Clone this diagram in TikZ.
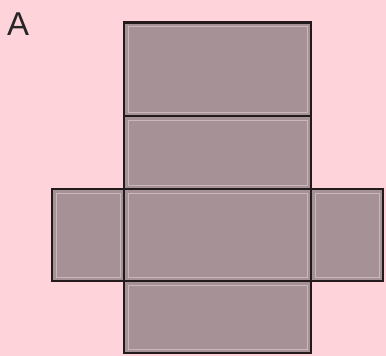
\documentclass[tikz,border=0pt]{standalone}
\usepackage{fontspec}
\setmainfont{Liberation Sans}
\definecolor{bgpink}{HTML}{FFD3DA}
\definecolor{facefill}{HTML}{A69196}
\definecolor{faceline}{HTML}{231A1C}
\definecolor{innerline}{HTML}{C9B9BC}
\begin{document}
\begin{tikzpicture}[x=1pt,y=-1pt,
  face/.style={fill=facefill,draw=faceline,line width=2.2pt},
  inner/.style={draw=innerline,line width=0.9pt}]
\useasboundingbox (0,0) rectangle (386,356);
\fill[bgpink] (0,0) rectangle (386,356);
\node[anchor=base west,inner sep=0pt,font=\fontsize{33}{33}\selectfont,text=black!85] (lab) at (7,35) {A};
% faces
\foreach \xa/\ya/\xb/\yb/\n in {124/22.5/311/116/f1, 124/116/311/189/f2, 124/189/311/281/f3, 124/281/311/353/f4, 52/189/124/281/fl, 311/189/383/281/fr}{
  \path[fill=facefill] (\xa,\ya) rectangle (\xb,\yb);
  \draw[inner] (\xa+4,\ya+4) rectangle (\xb-4,\yb-4);
}
\foreach \xa/\ya/\xb/\yb in {124/22.5/311/116, 124/116/311/189, 124/189/311/281, 124/281/311/353, 52/189/124/281, 311/189/383/281}{
  \draw[draw=faceline,line width=2.2pt] (\xa,\ya) rectangle (\xb,\yb);
}
\end{tikzpicture}
\end{document}
